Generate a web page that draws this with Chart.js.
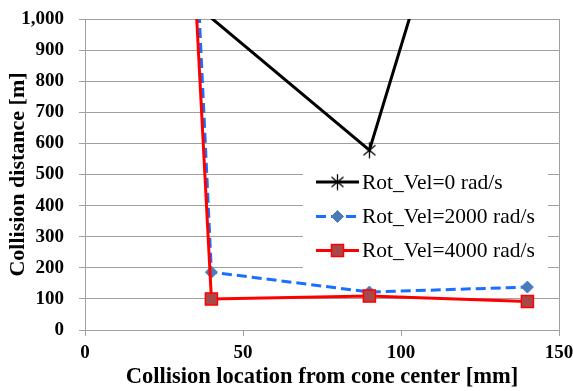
<!DOCTYPE html>
<html>
<head>
<meta charset="utf-8">
<script src="https://cdn.jsdelivr.net/npm/chart.js@4/dist/chart.umd.min.js"></script>
<style>
html,body{margin:0;padding:0;background:#fff;}
#wrap{width:573px;height:391px;position:relative;}
</style>
</head>
<body>
<div id="wrap"><canvas id="c" width="573" height="391"></canvas></div>
<script>
// ---- data ----
const xPositions = [35, 40, 90, 140];
const seriesLabels = ['Rot_Vel=0 rad/s', 'Rot_Vel=2000 rad/s', 'Rot_Vel=4000 rad/s'];
const rotVel0 = [1500, 1003, 578, 2250];
const rotVel2000 = [1260, 186, 122, 138];
const rotVel4000 = [1070, 100, 109, 92];
const xTicks = [0, 50, 100, 150];
const yTicks = [0, 100, 200, 300, 400, 500, 600, 700, 800, 900, 1000];

const FONT = '"Liberation Serif", Tinos, "Times New Roman", "DejaVu Serif", serif';

function toPoints(vals){ return xPositions.map((x,i)=>({x:x, y:vals[i]})); }

function makeAsterisk(){
  const c=document.createElement('canvas'); c.width=15; c.height=17;
  const g=c.getContext('2d'); g.strokeStyle='#000'; g.lineWidth=1.3;
  g.beginPath();
  g.moveTo(7.5,0.5); g.lineTo(7.5,16.5);
  g.moveTo(1.5,3.5); g.lineTo(13.5,13.5);
  g.moveTo(13.5,3.5); g.lineTo(1.5,13.5);
  g.stroke();
  return c;
}
const asterisk = makeAsterisk();
const hideAbove = r => (ctx) => (ctx.raw && ctx.raw.y > 1000 ? 0 : r);

const datasets = [
  {label: seriesLabels[0], data: toPoints(rotVel0), borderColor:'#000000', backgroundColor:'#000000',
   borderWidth:3, pointStyle: asterisk, pointRadius: hideAbove(7), order:2},
  {label: seriesLabels[1], data: toPoints(rotVel2000), borderColor:'#1a6fff', backgroundColor:'#4a7cbc',
   pointBorderColor:'#4a7cbc', borderWidth:3, borderDash:[10,5], pointStyle:'rectRot', pointRadius: hideAbove(6),
   pointBorderWidth:1, order:1},
  {label: seriesLabels[2], data: toPoints(rotVel4000), borderColor:'#ff0000', backgroundColor:'#a84848',
   pointBorderColor:'#ff0000', borderWidth:3, pointStyle:'rect', pointRadius: hideAbove(8.5),
   pointBorderWidth:1.5, order:0}
];

const insideLegend = {
  id:'insideLegend',
  beforeDatasetsDraw(chart){
    const ctx=chart.ctx; ctx.save();
    ctx.fillStyle='#fff'; ctx.fillRect(303,162,245,106);
    ctx.restore();
  },
  afterDatasetsDraw(chart){
    const ctx=chart.ctx; ctx.save();
    const rows=[182,216.5,250.5];
    chart.data.datasets.forEach((ds,i)=>{
      const y=rows[i];
      ctx.save();
      ctx.strokeStyle=ds.borderColor; ctx.lineWidth=3;
      ctx.setLineDash(ds.borderDash||[]);
      ctx.beginPath(); ctx.moveTo(316,y); ctx.lineTo(359,y); ctx.stroke();
      ctx.setLineDash([]);
      const r = i===0?7:(i===1?6:8.5);
      ctx.fillStyle=ds.backgroundColor; ctx.strokeStyle=ds.pointBorderColor||ds.borderColor;
      ctx.lineWidth=ds.pointBorderWidth||1;
      Chart.helpers.drawPoint(ctx,{pointStyle:ds.pointStyle,radius:r,borderWidth:ctx.lineWidth,rotation:0},337.5,y);
      ctx.restore();
      ctx.fillStyle='#000'; ctx.font='21.5px '+FONT; ctx.textBaseline='middle'; ctx.textAlign='left';
      ctx.fillText(ds.label,362,y+1);
    });
    ctx.restore();
  }
};

new Chart(document.getElementById('c'),{
  type:'line',
  data:{datasets:datasets},
  plugins:[insideLegend],
  options:{
    responsive:false, animation:false,
    layout:{padding:{left:0,right:14,top:19,bottom:0}},
    plugins:{legend:{display:false}, tooltip:{enabled:false}},
    scales:{
      x:{type:'linear', min:0, max:150,
        afterBuildTicks(s){ s.ticks = xTicks.map(v=>({value:v})); },
        afterFit(s){ s.height=61; s.paddingLeft=0; s.paddingRight=0; },
        grid:{color:(c)=> (c.tick && c.tick.value===150 ? '#a0a0a0':'rgba(0,0,0,0)'), tickColor:'#a0a0a0', tickLength:6, lineWidth:1},
        border:{color:'#a0a0a0', width:1},
        ticks:{font:{family:FONT,size:19,weight:'bold'}, color:'#000', padding:6, maxRotation:0},
        title:{display:true, text:'Collision location from cone center [mm]', font:{family:FONT,size:22.5,weight:'bold'}, color:'#000', padding:{top:0,bottom:0}}
      },
      y:{type:'linear', min:0, max:1000,
        afterBuildTicks(s){ s.ticks = yTicks.map(v=>({value:v})); },
        afterFit(s){ s.width=85; s.paddingTop=0; s.paddingBottom=0; },
        grid:{color:'#a0a0a0', tickColor:'#a0a0a0', tickLength:6, lineWidth:1},
        border:{color:'#a0a0a0', width:1},
        ticks:{font:{family:FONT,size:19,weight:'bold'}, color:'#000', padding:15,
          callback:(v)=> Number(v).toLocaleString('en-US')},
        title:{display:true, text:'Collision distance [m]', font:{family:FONT,size:22,weight:'bold'}, color:'#000', padding:{top:5,bottom:0}}
      }
    }
  }
});
</script>
</body>
</html>
